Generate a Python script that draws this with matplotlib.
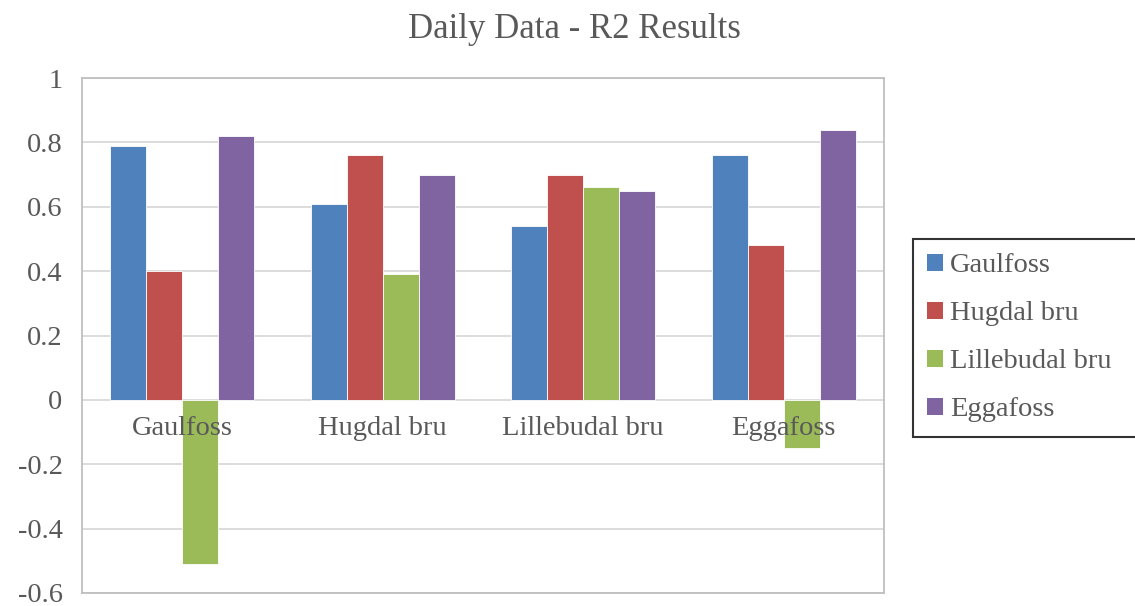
import matplotlib
matplotlib.use("Agg")
import matplotlib.pyplot as plt
import numpy as np
from matplotlib.patches import Patch

categories = ["Gaulfoss", "Hugdal bru", "Lillebudal bru", "Eggafoss"]
series_names = ["Gaulfoss", "Hugdal bru", "Lillebudal bru", "Eggafoss"]
gaulfoss = [0.79, 0.61, 0.54, 0.76]
hugdal = [0.40, 0.76, 0.70, 0.48]
lillebudal = [-0.51, 0.39, 0.66, -0.15]
eggafoss = [0.82, 0.70, 0.65, 0.84]
y_ticks = [-0.6, -0.4, -0.2, 0, 0.2, 0.4, 0.6, 0.8, 1]
y_tick_labels = ["-0.6", "-0.4", "-0.2", "0", "0.2", "0.4", "0.6", "0.8", "1"]

colors = ["#4F81BD", "#C0504D", "#9BBB59", "#8064A2"]
series = [gaulfoss, hugdal, lillebudal, eggafoss]

plt.rcParams['font.family'] = ['Liberation Serif', 'DejaVu Serif']
text_color = "#595959"

fig = plt.figure(figsize=(11.35, 6.06), dpi=100)
ax = fig.add_axes([82/1135, 1-593/606, (884-82)/1135, (593-78)/606])

x = np.arange(len(categories))
bw = 0.18
for i, (vals, c) in enumerate(zip(series, colors)):
    ax.bar(x + (i - 1.5) * bw, vals, width=bw, color=c, edgecolor="white",
           linewidth=0.6, zorder=3)

ax.set_xlim(-0.5, len(categories) - 0.5)
ax.set_ylim(-0.6, 1.0)
ax.set_yticks(y_ticks)
ax.set_yticklabels(y_tick_labels, fontsize=20.5, color=text_color)
ax.tick_params(axis='y', length=0, pad=14)
ax.set_xticks([])
ax.yaxis.grid(True, color="#D9D9D9", linewidth=1.3, zorder=0)
ax.set_axisbelow(True)
for sp in ax.spines.values():
    sp.set_color("#BFBFBF")
    sp.set_linewidth(1.3)

for xi, lab in zip(x, categories):
    ax.text(xi, -0.05, lab, ha='center', va='top', fontsize=20.5,
            color=text_color, zorder=4)

fig.text(574/1135, 1-29/606, "Daily Data - R2 Results", ha='center', va='center',
         fontsize=25, color=text_color)

handles = [Patch(facecolor=c, edgecolor='none') for c in colors]
leg = fig.legend(handles, series_names, loc='upper left',
                 bbox_to_anchor=(913/1135, 1-432/606, (1145-913)/1135, (432-239)/606),
                 mode='expand', fontsize=20.5,
                 frameon=True, fancybox=False, borderaxespad=0,
                 handlelength=0.55, handleheight=0.55, handletextpad=0.25,
                 labelspacing=0.81, borderpad=0.5)
leg.get_frame().set_edgecolor("black")
leg.get_frame().set_linewidth(1.5)
for t in leg.get_texts():
    t.set_color(text_color)

fig.savefig("out.png", dpi=100)
